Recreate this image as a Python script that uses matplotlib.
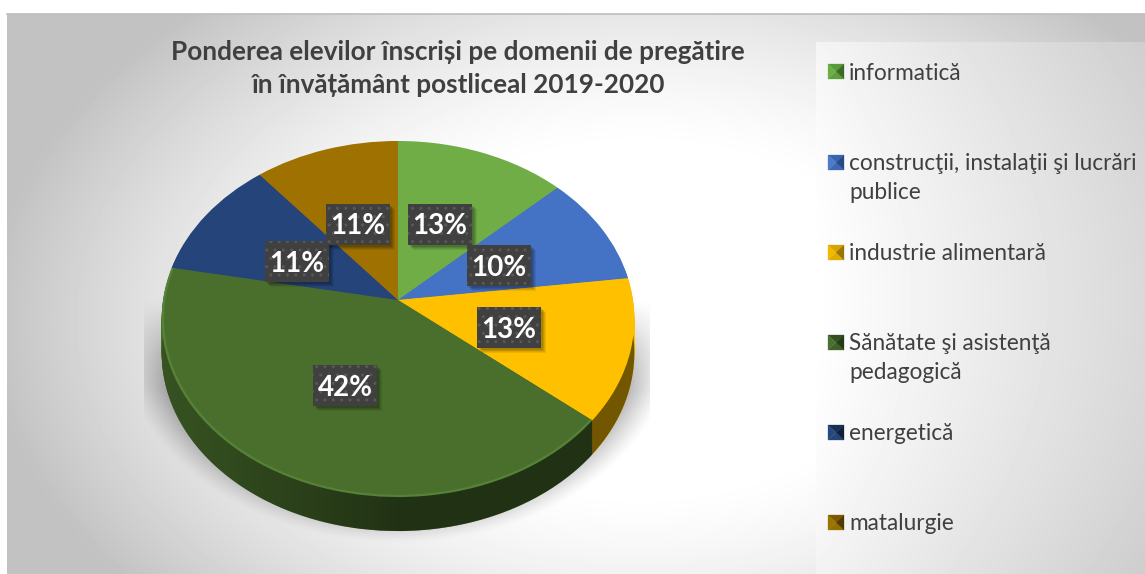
import numpy as np
import matplotlib
matplotlib.use("Agg")
import matplotlib.pyplot as plt
from matplotlib.patches import Rectangle, Polygon
from matplotlib.path import Path
from matplotlib.transforms import Transform

# ---- data ----
categories = ["informatică", "construcţii, instalaţii şi lucrări\npublice", "industrie alimentară",
              "Sănătate şi asistenţă\npedagogică", "energetică", "matalurgie"]
values = [13, 10, 13, 42, 11, 11]
colors = ["#70AD47", "#4472C4", "#FFC000", "#4A6F2D", "#25457A", "#9E7100"]
rim_colors = ["#70AD47", "#4472C4", "#FFC000", "#558236", "#25457A", "#9E7100"]
title_lines = ["Ponderea elevilor înscriși pe domenii de pregătire",
               "în învățământ postliceal 2019-2020"]

# ---- layout (pixels) ----
W, H = 1145, 574
label_centers = [(440, 224), (499, 265), (509, 327), (345, 385), (297, 261), (357.5, 224)]
legend_y = [72, 163, 253, 343, 433, 523]
BOX_W, BOX_H = 64, 41
CX, CY, DEPTH = 398, 300, 34
K, A, B = 0.1068, 176.0, 235.0

plt.rcParams['font.family'] = ['Lato', 'DejaVu Sans']
plt.rcParams['hatch.linewidth'] = 1.0


class Persp(Transform):
    """Tilted-disc projection of the unit pie into pixel coordinates."""
    input_dims = output_dims = 2
    is_separable = False
    has_inverse = False

    def __init__(self, dy=0.0):
        super().__init__()
        self.dy = dy

    def transform_non_affine(self, xy):
        xy = np.asarray(xy, float)
        d = 1 + K * xy[:, 1]
        return np.column_stack([CX + B * xy[:, 0] / d, CY + self.dy - A * xy[:, 1] / d])


fig = plt.figure(figsize=(W / 100, H / 100), dpi=100, facecolor="white")
ax = fig.add_axes([0, 0, 1, 1])


def draw_pie(cols, dy, z, radius=1.0):
    wedges, _ = ax.pie(values, colors=cols, startangle=90, counterclock=False, radius=radius)
    for w in wedges:
        w.set_transform(Persp(dy) + ax.transData)
        w.set_zorder(z)
        w.set_linewidth(0)
    return wedges


# background gradient
yy, xx = np.mgrid[0:H, 0:W] + 0.5
r = np.hypot((xx - 640) / 640, (yy - 320) / 420)
loss = np.minimum(0.23 * (np.clip(r - 0.4, 0, None) / 0.6) ** 1.4, 0.24)
box_loss = 0.15 * np.clip((xx - 816) / 330, 0, 1) + 0.045 * (np.abs(yy - 300) / 270) ** 2
loss = np.where((xx > 816) & (yy > 42), box_loss, loss)
val = 1 - loss
val[(xx < 7) | (yy < 14)] = 1.0

# soft floor shadow
sr = np.hypot((xx - CX) / 238, (yy - 335) / 178)
sd = np.clip((sr - 1) * 200, 0, None)
sh = 0.32 * np.clip(1 - sd / 34, 0, 1) ** 1.3 * np.clip((yy - 300) / 90, 0, 1)
sh[(xx < 144) | (xx > 650) | (yy > 545)] = 0
val = val * (1 - sh)
ax.imshow(val, cmap="gray", vmin=0, vmax=1, extent=(0, W, H, 0), aspect="auto", zorder=0,
          interpolation="bilinear")
ax.plot([7, W], [13.5, 13.5], color="#BDBDBD", lw=1.2, zorder=1)

# side of the disc
for d in range(DEPTH, 0, -1):
    draw_pie(colors, d, 2)

side_alpha = 0.25 + 0.30 * np.clip((xx[0] - 160) / 240, 0, 1)
overlay = np.zeros((1, W, 4))
overlay[0, :, 3] = side_alpha
th = np.radians(np.linspace(170, 370, 240))
band = Persp(DEPTH).transform_non_affine(np.column_stack([np.cos(th), np.sin(th)]))
im = ax.imshow(overlay, extent=(0, W, H, 0), aspect="auto", zorder=3)
im.set_clip_path(Path(np.vstack([band, band[:1]])), ax.transData)

# top face with a thin lighter rim
draw_pie(rim_colors, 0, 4)
draw_pie(colors, 0, 5, radius=0.99)

# value labels
for v, (x, y) in zip(values, label_centers):
    for off, a in [(5, 0.07), (4, 0.08), (3, 0.10), (2, 0.12)]:
        ax.add_patch(Rectangle((x - BOX_W / 2 + off, y - BOX_H / 2 + off), BOX_W, BOX_H,
                               fc="black", ec="none", alpha=a, zorder=6))
    ax.add_patch(Rectangle((x - BOX_W / 2, y - BOX_H / 2), BOX_W, BOX_H, fc="#404040",
                           ec="#585858", hatch="..", lw=0, zorder=7))
    ax.text(x, y + 2.5, f"{v}%", color="white", fontsize=20, fontweight="bold",
            ha="center", va="center", zorder=8)

# title
for line, y in zip(title_lines, [52, 85]):
    ax.text(458, y, line, color="#404040", fontsize=18.8, fontweight="bold",
            ha="center", va="center", zorder=8)

# legend
shades = {
    0: ("#5A9A3A", "#5E9E3C", "#6AAE45", "#3B6A25"),
    1: ("#3A64AE", "#3E68B4", "#4C7AC8", "#274A87"),
    2: ("#D9A300", "#E0AC00", "#F0B800", "#9A7400"),
    3: ("#34501F", "#3F6127", "#4A7030", "#263A16"),
    4: ("#182F58", "#24457A", "#25497F", "#10203C"),
    5: ("#7C5900", "#957000", "#9A7400", "#503A00"),
}
for i, (name, y) in enumerate(zip(categories, legend_y)):
    x0, x1, y0, y1 = 828, 844, y - 8, y + 7
    xm, ym = (x0 + x1) / 2, (y0 + y1) / 2
    top, bottom, left, right = shades[i]
    for pts, c in [([(x0, y0), (x1, y0), (xm, ym)], top), ([(x0, y1), (x1, y1), (xm, ym)], bottom),
                   ([(x0, y0), (x0, y1), (xm, ym)], left), ([(x1, y0), (x1, y1), (xm, ym)], right)]:
        ax.add_patch(Polygon(pts, closed=True, fc=c, ec=c, lw=0.2, zorder=8))
    for j, part in enumerate(name.split("\n")):
        ax.text(849, y + 1 + j * 28.5, part, color="#404040", fontsize=16.3,
                ha="left", va="center", zorder=8)

ax.set_xlim(0, W)
ax.set_ylim(H, 0)
ax.set_aspect("auto")
ax.set_axis_off()
fig.savefig("out.png", dpi=100)
